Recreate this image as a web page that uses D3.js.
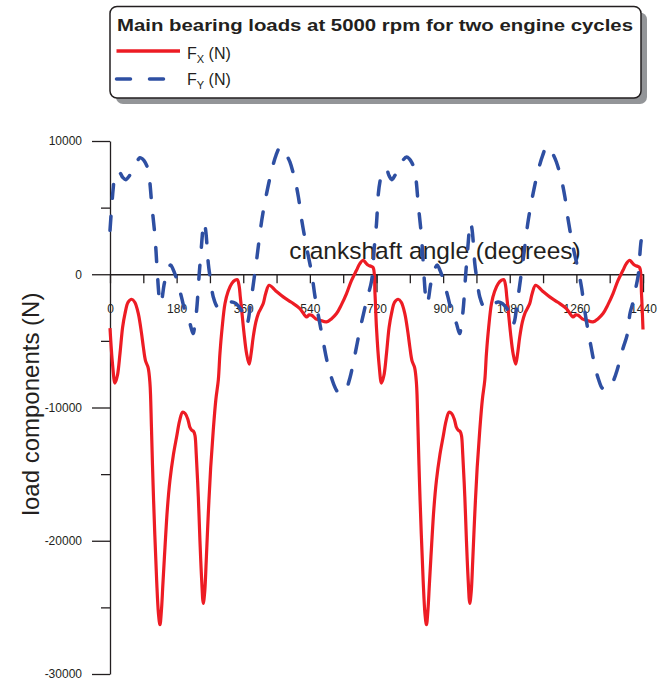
<!DOCTYPE html>
<html>
<head>
<meta charset="utf-8">
<script src="https://cdn.jsdelivr.net/npm/d3@7"></script>
<style>
body { margin: 0; background: #fff; }
text { font-family: Arial, "Liberation Sans", Helvetica, sans-serif; fill: #231f20; }
</style>
</head>
<body>
<div id="chart"></div>
<script>
// crank angle (deg), load (N)
var fxPoints = [
  [0,-4050],[7,-6800],[13.5,-8175],[20,-7600],[27,-5950],[34,-4000],[40.5,-2950],[49,-2100],[58.6,-1875],[67,-2100],
  [76.5,-2950],[85,-4400],[90,-5450],[96,-6500],[103,-7000],[108,-8200],[112,-11500],[116,-15450],[121,-19500],[126,-22950],
  [131,-25500],[135,-26300],[139,-25200],[143,-23200],[148.6,-20475],[155,-17600],[162,-15450],[171,-13600],[180,-12200],[188,-11000],
  [196,-10350],[203,-10450],[211,-10950],[216,-11500],[220.6,-11700],[226,-11800],[229.6,-12100],[233,-13500],[238.6,-16700],[243,-20000],
  [247.7,-22950],[252,-24700],[256,-23800],[260,-21500],[265.6,-17950],[272,-14500],[279,-11700],[286,-9400],[292.6,-7950],[297,-5950],
  [303,-4000],[310.7,-2200],[319,-1300],[328.8,-700],[338,-450],[344,-400],[349,-900],[352,-1700],[355.8,-2700],[362,-4400],
  [369,-5950],[376,-6750],[381,-6000],[387,-4700],[394,-3600],[400.7,-2950],[407,-2600],[414,-2200],[421,-1400],[430,-825],
  [448,-1250],[468,-1700],[490,-2100],[513,-2575],[531,-3200],[538,-3050],[545,-3075],[556,-3350],[567,-3450],[585,-3575],
  [598,-3350],[612,-2950],[625,-2300],[639,-1450],[652,-500],[666,300],[675,800],[684,1050],[691,850],[698,675],
  [705,600],[711,500],[716,-1500],
  [720,-4050],[727,-6800],[733.5,-8175],[740,-7600],[747,-5950],[754,-4000],[760.5,-2950],[769,-2100],[778.6,-1875],[787,-2100],
  [796.5,-2950],[805,-4400],[810,-5450],[816,-6500],[823,-7000],[828,-8200],[832,-11500],[836,-15450],[841,-19500],[846,-22950],
  [851,-25500],[855,-26300],[859,-25200],[863,-23200],[868.6,-20475],[875,-17600],[882,-15450],[891,-13600],[900,-12200],[908,-11000],
  [916,-10350],[923,-10450],[931,-10950],[936,-11500],[940.6,-11700],[946,-11800],[949.6,-12100],[953,-13500],[958.6,-16700],[963,-20000],
  [967.7,-22950],[972,-24700],[976,-23800],[980,-21500],[985.6,-17950],[992,-14500],[999,-11700],[1006,-9400],[1012.6,-7950],[1017,-5950],
  [1023,-4000],[1030.7,-2200],[1039,-1300],[1048.8,-700],[1058,-450],[1064,-400],[1069,-900],[1072,-1700],[1075.8,-2700],[1082,-4400],
  [1089,-5950],[1096,-6750],[1101,-6000],[1107,-4700],[1114,-3600],[1120.7,-2950],[1127,-2600],[1134,-2200],[1141,-1400],[1150,-825],
  [1168,-1250],[1188,-1700],[1210,-2100],[1233,-2575],[1251,-3200],[1258,-3050],[1265,-3075],[1276,-3350],[1287,-3450],[1305,-3575],
  [1318,-3350],[1332,-2950],[1345,-2300],[1359,-1450],[1372,-500],[1386,300],[1395,800],[1404,1050],[1411,850],[1418,675],
  [1425,600],[1431,500],[1436,-1500],[1440,-4150]
];

var fyPoints = [
  [0,3300],[4.5,5050],[9,6550],[13.5,7550],[20,7700],[27,7600],[35,7250],[43,7100],[50,7300],[56,7550],
  [70,8300],[81,8750],[88,8650],[95,8400],[103.6,7800],[108,6800],[112.6,5300],[121.6,2800],[128,50],[132,-1500],
  [135,-2200],[139,-2000],[146,-800],[153,50],[159,500],[164,700],[170,400],[177,-100],[184.6,-825],[193,-1700],
  [202,-2700],[209,-3200],[216,-3700],[221,-4200],[225,-4450],[229,-3800],[234,-2700],[241,0],[247.6,2300],[251,3400],
  [254,3900],[258,3400],[262,2200],[265.6,800],[272,-500],[279,-1700],[290,-2450],[301,-2575],[315,-2300],[328.7,-2075],
  [340,-2200],[350,-2500],[360,-2950],[366,-3600],[369,-3750],[373,-3500],[378,-2600],[385,-1200],[396,1050],[410,4050],
  [423,6050],[437,7800],[448.5,8925],[460,9550],[468,9400],[477,8950],[486,8425],[500,7050],[509,5800],[518,4050],
  [531,2050],[545,50],[554,-1700],[572,-4450],[590,-6950],[605,-8300],[614,-8800],[621,-8950],[630,-8900],[639,-8575],
  [648,-7800],[657,-6700],[675,-4200],[693.5,-1950],[707,-450],[714,2000],
  [720,3800],[725,6050],[730,7050],[735,7600],[746,7900],[754,7400],[761,7100],[770,7425],[780,7900],[790,8500],
  [801.5,8800],[809,8650],[815,8400],[823.6,7800],[828,6800],[832.6,5300],[841.6,2800],[848,50],[852,-1500],[855,-2200],
  [859,-2000],[866,-800],[873,50],[879,500],[884,700],[890,400],[897,-100],[904.6,-825],[913,-1700],[922,-2700],
  [929,-3200],[936,-3700],[941,-4200],[945,-4450],[949,-3800],[954,-2700],[961,0],[967.6,2300],[971,3400],[974,3900],
  [978,3400],[982,2200],[985.6,800],[992,-500],[999,-1700],[1010,-2450],[1021,-2575],[1035,-2300],[1048.7,-2075],[1060,-2200],
  [1070,-2500],[1080,-2950],[1086,-3600],[1089,-3750],[1093,-3500],[1098,-2600],[1105,-1200],[1116,1050],[1130,4050],[1143,6050],
  [1157,7800],[1169,8925],[1180,9600],[1188,9450],[1197,9000],[1206,8425],[1220,7050],[1229,5800],[1238,4050],[1251,2050],
  [1265,300],[1274,-1000],[1283,-2800],[1292,-4300],[1300,-5500],[1310,-6900],[1320,-7900],[1330,-8550],[1340,-8650],[1350,-8550],
  [1360,-8000],[1370,-7200],[1386,-5550],[1397,-4575],[1405,-2925],[1413,-2100],[1420,-1100],[1427,-100],[1434,2300],[1440,3425]
];

var xTicks = [0,90,180,270,360,450,540,630,720,810,900,990,1080,1170,1260,1350,1440];
var xLabels = [0,180,360,540,720,900,1080,1260,1440];
var xLongTicks = [720,1440];
var yMajor = [10000,0,-10000,-20000,-30000];
var yMinor = [5000,-5000,-15000,-25000];

var legendTitle = "Main bearing loads at 5000 rpm for two engine cycles";
var seriesNames = [["F","X"," (N)"],["F","Y"," (N)"]];

var width = 670, height = 682;
var ink = "#231f20";
var red = "#ed1c24", blue = "#2e4fa2";
var plain = function(d) { return String(d); };

var svg = d3.select("#chart").append("svg")
    .attr("width", width)
    .attr("height", height);

svg.append("rect").attr("width", width).attr("height", height).attr("fill", "#fff");

var x = d3.scaleLinear().domain([0, 1440]).range([110, 643]);
var y = d3.scaleLinear().domain([-30000, 10000]).range([674, 141]);

// y axis, major and minor ticks
svg.append("g")
    .attr("transform", "translate(" + x(0) + ",0)")
    .call(d3.axisLeft(y).tickValues(yMajor).tickSize(18).tickPadding(10).tickSizeOuter(0).tickFormat(plain));
svg.append("g")
    .attr("transform", "translate(" + x(0) + ",0)")
    .call(d3.axisLeft(y).tickValues(yMinor).tickSize(9).tickFormat(""))
    .select(".domain").remove();

// x axis sits on the zero line
svg.append("g")
    .attr("transform", "translate(0," + y(0) + ")")
    .call(d3.axisBottom(x).tickValues(xTicks).tickSize(9).tickFormat("").tickSizeOuter(0));
svg.append("g")
    .attr("transform", "translate(0," + y(0) + ")")
    .call(d3.axisBottom(x).tickValues(xLongTicks).tickSize(18).tickFormat(""))
    .select(".domain").remove();
svg.append("g")
    .attr("transform", "translate(0," + y(0) + ")")
    .call(d3.axisBottom(x).tickValues(xLabels).tickSize(0).tickPadding(30).tickFormat(plain))
    .select(".domain").remove();

svg.selectAll(".tick line, .domain").attr("stroke", ink).attr("stroke-width", 1.3);
svg.selectAll(".tick text")
    .attr("fill", ink)
    .style("font-size", "12px")
    .style("font-family", "Arial, 'Liberation Sans', sans-serif");

// axis titles
svg.append("text")
    .attr("x", 435)
    .attr("y", 259)
    .attr("text-anchor", "middle")
    .style("font-size", "24.5px")
    .text("crankshaft angle (degrees)");

svg.append("text")
    .attr("transform", "translate(39,404) rotate(-90)")
    .attr("text-anchor", "middle")
    .style("font-size", "24px")
    .text("load components (N)");

// curves
var line = d3.line()
    .x(function(d) { return x(d[0]); })
    .y(function(d) { return y(d[1]); })
    .curve(d3.curveCatmullRom.alpha(0.5));

svg.append("path")
    .datum(fxPoints)
    .attr("d", line)
    .attr("fill", "none")
    .attr("stroke", red)
    .attr("stroke-width", 3.2)
    .attr("stroke-linejoin", "round");

svg.append("path")
    .datum(fyPoints)
    .attr("d", line)
    .attr("fill", "none")
    .attr("stroke", blue)
    .attr("stroke-width", 3.5)
    .attr("stroke-linecap", "round")
    .attr("stroke-dasharray", "14,18");

// legend box with drop shadow
var legend = svg.append("g");
legend.append("rect")
    .attr("x", 116).attr("y", 12.5)
    .attr("width", 531).attr("height", 91.5)
    .attr("rx", 7)
    .attr("fill", "#939598");
legend.append("rect")
    .attr("x", 110).attr("y", 6.5)
    .attr("width", 531).attr("height", 91.5)
    .attr("rx", 7)
    .attr("fill", "#fff")
    .attr("stroke", ink)
    .attr("stroke-width", 1.5);

legend.append("text")
    .attr("x", 117).attr("y", 30.5)
    .attr("textLength", 516)
    .attr("lengthAdjust", "spacingAndGlyphs")
    .style("font-size", "17px")
    .style("font-weight", "bold")
    .text(legendTitle);

legend.append("line")
    .attr("x1", 116.5).attr("x2", 180)
    .attr("y1", 51).attr("y2", 51)
    .attr("stroke", red).attr("stroke-width", 3.3);
legend.append("line")
    .attr("x1", 116.5).attr("x2", 180)
    .attr("y1", 79).attr("y2", 79)
    .attr("stroke", blue).attr("stroke-width", 3.5)
    .attr("stroke-linecap", "round")
    .attr("stroke-dasharray", "14,19");

seriesNames.forEach(function(s, i) {
    var t = legend.append("text")
        .attr("x", 187)
        .attr("y", 58.5 + i * 26.5)
        .style("font-size", "16px");
    t.append("tspan").text(s[0]);
    t.append("tspan").attr("dy", 4).style("font-size", "11px").text(s[1]);
    t.append("tspan").attr("dy", -4).text(s[2]);
});
</script>
</body>
</html>
